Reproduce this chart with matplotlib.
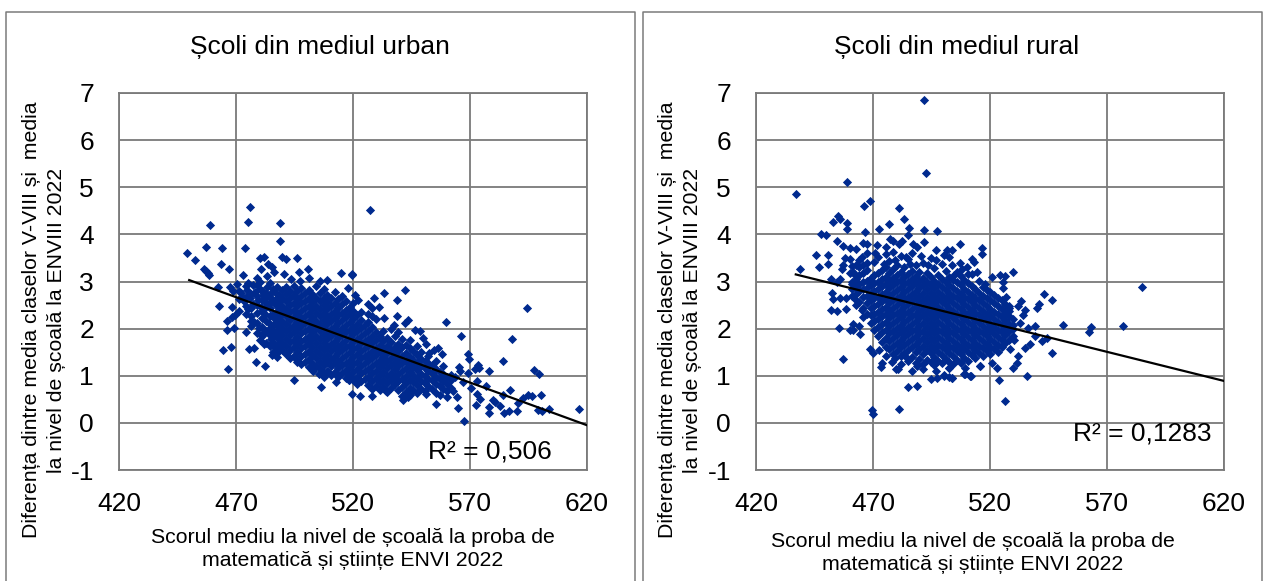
import matplotlib
matplotlib.use("Agg")
import matplotlib.pyplot as plt
from matplotlib.lines import Line2D

plt.rcParams['font.family'] = ['Liberation Sans', 'DejaVu Sans']

W, H = 1266, 581
BLUE = '#002a8f'
GRAY = '#7a7a7a'

x_ticks = [420, 470, 520, 570, 620]
y_ticks = [-1, 0, 1, 2, 3, 4, 5, 6, 7]
y_tick_labels = ['-1', '0', '1', '2', '3', '4', '5', '6', '7']

# scattered schools (score, difference)
urban_points = [
    (475.8,4.58),(459.0,4.20),(475.2,4.26),(488.9,4.25),(488.9,3.86),(457.0,3.74),(464.0,3.72),(473.8,3.71),
    (449.0,3.60),(452.5,3.46),(463.6,3.38),(466.8,3.26),(456.3,3.26),(457.2,3.22),(458.0,3.18),(458.6,3.14),
    (480.4,3.49),(482.1,3.52),(489.5,3.53),(491.5,3.47),(496.2,3.50),(483.6,3.38),(485.5,3.30),(480.8,3.26),
    (486.1,3.21),(473.0,3.13),(490.6,3.16),(496.8,3.20),(500.6,3.26),(514.7,3.18),(519.4,3.15),(483.1,3.11),
    (478.8,3.08),(501.0,3.07),(493.6,3.05),(497.3,3.02),(508.7,3.04),(505.9,3.02),(462.4,2.89),(470.5,2.94),
    (467.4,2.88),(468.8,2.79),(475.0,2.96),(477.4,2.92),(480.2,3.00),(462.9,2.47),(468.1,2.45),(469.5,2.28),
    (468.5,2.24),(466.1,2.16),(469.3,2.02),(466.3,1.98),(467.7,1.61),(464.4,1.55),(466.7,1.15),(474.4,1.93),
    (476.2,2.17),(476.2,2.05),(475.4,1.56),(477.7,1.59),(478.7,1.29),(482.5,1.20),(485.2,1.44),(480.9,1.88),
    (480.2,1.76),(481.9,1.68),(494.9,0.90),(495.9,1.29),(503.0,1.11),(505.3,1.04),(507.6,0.97),(506.3,0.76),
    (512.9,0.87),(518.1,0.91),(521.8,0.83),(512.7,1.04),(509.4,1.07),(517.3,1.05),(527.3,4.52),(519.4,3.14),
    (518.0,2.87),(520.7,2.71),(533.1,2.75),(542.4,2.82),(529.1,2.65),(538.9,2.61),(522.3,2.60),(526.5,2.52),
    (531.1,2.46),(528.3,2.44),(528.0,2.27),(533.4,2.22),(538.7,2.26),(543.5,2.19),(542.2,2.12),(559.9,2.14),
    (537.4,2.08),(546.5,1.97),(548.6,1.95),(566.1,1.84),(587.9,1.79),(594.4,2.44),(549.8,1.80),(551.2,1.67),
    (556.2,1.58),(554.5,1.54),(557.9,1.47),(552.3,1.49),(569.0,1.47),(569.7,1.35),(584.1,1.32),(597.2,1.12),
    (599.3,1.04),(578.0,1.10),(573.6,1.23),(574.0,1.16),(572.1,1.15),(565.3,1.19),(565.9,1.10),(569.3,1.06),
    (563.6,0.98),(573.0,0.89),(576.8,0.79),(570.3,0.74),(567.0,0.86),(587.1,0.70),(600.2,0.60),(596.4,0.57),
    (594.6,0.59),(592.5,0.53),(584.0,0.60),(579.7,0.49),(580.7,0.45),(574.3,0.50),(573.1,0.62),(590.6,0.42),
    (589.9,0.26),(582.8,0.35),(578.1,0.33),(578.1,0.21),(572.4,0.38),(564.6,0.55),(564.9,0.31),(567.4,0.04),
    (555.5,0.39),(560.2,0.55),(562.9,0.67),(584.5,0.21),(586.5,0.26),(599.2,0.28),(600.9,0.26),(603.8,0.30),
    (616.4,0.29),(519.7,0.61),(522.8,0.57),(528.0,0.57),(518.3,0.91),(541.5,0.49),(543.6,0.55),(551.0,0.62),
    (534.0,0.67),(472.3,2.75),(473.4,2.58),(474.6,2.82),(475.2,2.41),(476.1,2.66),(477.3,2.52),(478.2,2.78),
    (478.9,2.34),(479.6,2.61),(474.1,2.30),(480.3,2.85),(480.8,2.45),(472.9,2.64),(477.9,2.15),(479.9,2.02),
    (481.4,2.72),(482.2,2.30),(482.7,2.55),(483.3,2.88),(483.9,2.12),(484.5,2.43),(485.1,2.66),(485.6,1.95),
    (486.2,2.22),(486.8,2.78),(487.3,2.50),(487.9,2.05),(484.8,1.78),(486.5,1.62),(488.1,1.50),(483.0,1.70),
]

# the dense middle of the cloud, column by column
urban_core_x = [471.4,474.2,476.6,479.0,481.2,482.8,484.4,486.0,487.4,
                488.2,489.8,491.4,493.0,494.6,496.2,497.8,499.4,501.0,502.6,504.2,505.8,507.4,509.0,510.6,512.2,
                513.8,515.4,517.0,518.6,520.2,521.8,523.4,525.0,526.6,528.2,529.8,531.4,533.0,534.6,536.2,537.8,
                539.4,541.0,542.6,544.2,545.8,547.4,549.0,550.6,552.2,553.8,555.4,557.0,558.6,560.2,562.0]
urban_core_y = [
    [2.38,2.62,2.80],
    [2.48,2.68,2.90],
    [2.26,2.44,2.74],
    [1.90,2.12,2.50,2.70,2.92],
    [1.84,2.04,2.22,2.38,2.60,2.80],
    [1.94,2.16,2.46,2.66,2.76],
    [1.64,1.86,2.02,2.26,2.54,2.74,2.96],
    [1.50,1.72,1.88,2.08,2.32,2.58,2.84],
    [1.40,1.66,1.82,1.98,2.16,2.36,2.64,2.88],
    [1.62,1.79,1.93,2.10,2.24,2.41,2.57,2.71],
    [1.55,1.70,1.86,2.02,2.17,2.33,2.49,2.66,2.83],
    [1.47,1.63,1.79,1.95,2.09,2.26,2.42,2.58,2.73,2.88],
    [1.38,1.55,1.71,1.87,2.02,2.18,2.35,2.50,2.66,2.80],
    [1.42,1.60,1.76,1.92,2.08,2.24,2.39,2.55,2.71,2.90],
    [1.33,1.50,1.67,1.83,1.99,2.15,2.31,2.47,2.63,2.79],
    [1.25,1.41,1.58,1.74,1.90,2.06,2.22,2.38,2.54,2.70,2.86],
    [1.30,1.47,1.63,1.79,1.95,2.11,2.27,2.43,2.59,2.75],
    [1.19,1.36,1.53,1.69,1.85,2.01,2.17,2.33,2.49,2.65,2.83],
    [1.12,1.28,1.45,1.61,1.77,1.93,2.09,2.25,2.41,2.57,2.73],
    [1.20,1.37,1.53,1.69,1.85,2.01,2.17,2.33,2.49,2.65,2.90],
    [1.14,1.30,1.46,1.62,1.78,1.94,2.10,2.26,2.42,2.58,2.76],
    [1.05,1.22,1.38,1.54,1.70,1.86,2.02,2.18,2.34,2.50,2.66,2.85],
    [1.11,1.29,1.45,1.61,1.77,1.93,2.09,2.25,2.41,2.57,2.72],
    [1.02,1.20,1.36,1.52,1.68,1.84,2.00,2.16,2.32,2.48,2.64],
    [1.09,1.26,1.42,1.58,1.74,1.90,2.06,2.22,2.38,2.54,2.78],
    [0.98,1.16,1.32,1.48,1.64,1.80,1.96,2.12,2.28,2.44,2.62],
    [1.05,1.22,1.38,1.54,1.70,1.86,2.02,2.18,2.34,2.52,2.70],
    [0.96,1.12,1.28,1.44,1.60,1.76,1.92,2.08,2.24,2.40,2.58],
    [1.00,1.18,1.34,1.50,1.66,1.82,1.98,2.14,2.30,2.46],
    [0.92,1.08,1.24,1.40,1.56,1.72,1.88,2.04,2.20,2.38,2.55],
    [0.98,1.14,1.30,1.46,1.62,1.78,1.94,2.10,2.28],
    [0.88,1.05,1.21,1.37,1.53,1.69,1.85,2.01,2.19,2.36],
    [0.93,1.10,1.26,1.42,1.58,1.74,1.90,2.08],
    [0.80,0.98,1.15,1.31,1.47,1.63,1.79,1.96,2.14,2.32],
    [0.72,0.89,1.05,1.21,1.37,1.53,1.69,1.85,2.03],
    [0.78,0.95,1.11,1.27,1.43,1.59,1.75,1.93,2.20],
    [0.70,0.86,1.02,1.18,1.34,1.50,1.66,1.84],
    [0.76,0.92,1.08,1.24,1.40,1.56,1.74,1.94],
    [0.66,0.84,1.00,1.16,1.32,1.48,1.64,1.80],
    [0.74,0.90,1.06,1.22,1.38,1.54,1.72,2.00],
    [0.82,0.98,1.14,1.30,1.46,1.62,1.85],
    [0.70,0.88,1.04,1.20,1.36,1.52,1.68,1.92],
    [0.58,0.76,0.94,1.10,1.26,1.42,1.60,1.78],
    [0.66,0.84,1.00,1.16,1.32,1.48,1.66],
    [0.60,0.74,0.92,1.08,1.24,1.40,1.58,1.76],
    [0.70,0.86,1.02,1.18,1.34,1.52],
    [0.64,0.80,0.96,1.12,1.28,1.44,1.64],
    [0.72,0.88,1.04,1.20,1.36,1.50],
    [0.68,0.84,1.00,1.16,1.32],
    [0.78,0.94,1.10,1.26,1.42],
    [0.72,0.90,1.06,1.22],
    [0.64,0.82,0.98,1.14,1.32],
    [0.60,0.78,0.94,1.08],
    [0.72,0.88,1.04,1.20],
    [0.68,0.82,0.98],
    [0.75,0.90,1.02],
]
urban_trend_x = [450, 620]
urban_trend_y = [3.03, -0.05]

rural_points = [
    (492.8,5.30),(458.8,5.12),(437.0,4.85),(468.7,4.70),(466.0,4.61),(481.3,4.56),(483.1,4.33),(455.2,4.40),
    (455.9,4.32),(453.0,4.27),(459.0,4.25),(458.9,4.11),(476.8,4.23),(472.6,4.11),(466.6,4.04),(485.4,4.13),
    (491.8,4.10),(497.2,4.08),(485.1,3.98),(447.8,4.00),(449.9,3.98),(454.8,3.86),(457.0,3.76),(460.0,3.72),
    (462.7,3.69),(465.9,3.81),(467.6,3.80),(471.9,3.78),(475.6,3.73),(477.3,3.91),(478.7,3.87),(482.2,3.86),
    (481.0,3.79),(487.2,3.79),(488.7,3.74),(491.7,3.83),(507.2,3.79),(516.7,3.72),(516.7,3.59),(503.6,3.67),
    (501.5,3.67),(496.9,3.66),(445.6,3.57),(450.6,3.56),(450.6,3.37),(446.9,3.30),(438.9,3.27),(458.0,3.50),
    (460.2,3.48),(456.6,3.26),(457.3,3.35),(465.2,3.52),(461.6,3.21),(460.2,3.18),(513.3,3.41),(507.9,3.27),
    (514.3,3.21),(504.6,3.14),(510.7,3.16),(452.0,3.06),(455.9,3.06),(454.8,3.00),(462.7,3.05),(460.9,2.95),
    (452.3,2.75),(453.0,2.63),(455.9,2.64),(458.3,2.65),(452.0,2.39),(454.8,2.38),(458.5,2.41),(462.3,2.63),
    (465.2,2.39),(465.6,2.24),(455.6,2.01),(461.3,2.10),(464.0,2.05),(460.2,1.97),(461.3,1.97),(464.4,1.88),
    (457.2,1.36),(468.7,1.57),(470.0,1.48),(473.7,1.28),(473.3,1.19),(479.5,1.37),(479.7,1.15),(480.5,1.15),
    (486.8,1.11),(488.7,1.21),(491.5,1.14),(496.9,1.11),(502.5,1.17),(494.9,0.93),(497.2,0.96),(500.3,1.00),
    (502.5,0.98),(503.9,0.95),(509.3,1.03),(511.6,1.00),(509.3,1.16),(515.7,1.21),(484.8,0.76),(488.7,0.78),
    (469.4,0.28),(470.1,0.19),(481.0,0.30),(585.0,2.88),(492.0,6.85),(530.0,3.21),(524.3,3.14),(526.4,3.11),
    (520.7,3.09),(525.7,3.00),(525.7,2.87),(517.9,2.94),(526.8,2.67),(543.2,2.73),(546.4,2.60),(533.2,2.58),
    (541.1,2.53),(539.9,2.43),(534.9,2.40),(531.8,2.47),(528.3,2.48),(528.3,2.38),(533.9,2.29),(551.0,2.07),
    (539.2,2.05),(536.1,2.01),(532.8,2.12),(529.7,2.07),(563.2,2.04),(562.3,1.92),(576.8,2.05),(539.2,1.85),
    (544.2,1.80),(542.2,1.73),(537.1,1.68),(534.8,1.59),(546.4,1.48),(530.3,1.76),(528.5,1.56),(531.8,1.41),
    (531.4,1.28),(530.0,1.16),(523.1,1.16),(520.7,1.28),(535.7,1.00),(524.0,0.91),(526.4,0.46),(515.7,1.21),
    (511.7,1.00),(509.0,1.03),(503.9,0.95),(500.3,1.02),(502.5,1.16),(471.0,3.60),(474.5,3.38),(479.5,3.46),
    (484.0,3.52),(486.0,3.38),(490.5,3.55),(493.5,3.34),(497.0,3.46),(500.2,3.56),(503.8,3.34),(507.0,3.40),
    (510.0,3.30),(512.5,3.48),(472.5,1.55),(475.5,1.42),(478.0,1.30),(482.0,1.25),(484.0,1.40),
]

rural_core_x = [461.0,462.6,464.2,465.8,467.4,
                469.0,470.6,472.2,473.8,475.4,477.0,478.6,480.2,481.8,483.4,485.0,486.6,488.2,489.8,491.4,493.0,
                494.6,496.2,497.8,499.4,501.0,502.6,504.2,505.8,507.4,509.0,510.6,512.2,513.8,515.4,517.0,518.6,
                520.2,521.8,523.4,525.0,526.6,528.2,529.8]
rural_core_y = [
    [2.70,2.84,3.00,3.32],
    [2.50,2.74,2.88,3.12,3.36],
    [2.56,2.80,2.94,3.14,3.30,3.46],
    [2.44,2.68,2.84,3.00,3.18,3.34],
    [2.30,2.54,2.70,2.86,3.02,3.24,3.40,3.60],
    [2.12,2.28,2.44,2.60,2.76,2.92,3.08],
    [1.98,2.16,2.32,2.48,2.64,2.80,2.96,3.14,3.42],
    [1.85,2.04,2.20,2.36,2.52,2.68,2.84,3.00,3.18,3.52],
    [1.72,1.92,2.10,2.26,2.42,2.58,2.74,2.90,3.06,3.24],
    [1.60,1.80,1.98,2.14,2.30,2.46,2.62,2.78,2.94,3.10,3.30,3.58],
    [1.56,1.74,1.90,2.06,2.22,2.38,2.54,2.70,2.86,3.02,3.18,3.44],
    [1.46,1.64,1.80,1.96,2.12,2.28,2.44,2.60,2.76,2.92,3.08,3.26,3.62],
    [1.52,1.70,1.86,2.02,2.18,2.34,2.50,2.66,2.82,2.98,3.14,3.36],
    [1.42,1.60,1.76,1.92,2.08,2.24,2.40,2.56,2.72,2.88,3.04,3.20,3.55],
    [1.48,1.66,1.82,1.98,2.14,2.30,2.46,2.62,2.78,2.94,3.10,3.30],
    [1.32,1.54,1.72,1.88,2.04,2.20,2.36,2.52,2.68,2.84,3.00,3.16,3.48],
    [1.40,1.60,1.78,1.94,2.10,2.26,2.42,2.58,2.74,2.90,3.06,3.22,3.60],
    [1.28,1.50,1.68,1.84,2.00,2.16,2.32,2.48,2.64,2.80,2.96,3.12,3.34],
    [1.36,1.56,1.74,1.90,2.06,2.22,2.38,2.54,2.70,2.86,3.02,3.20],
    [1.24,1.46,1.64,1.80,1.96,2.12,2.28,2.44,2.60,2.76,2.92,3.08,3.40],
    [1.34,1.54,1.72,1.88,2.04,2.20,2.36,2.52,2.68,2.84,3.00,3.18],
    [1.30,1.48,1.64,1.80,1.96,2.12,2.28,2.44,2.60,2.76,2.92,3.10,3.50],
    [1.22,1.40,1.58,1.74,1.90,2.06,2.22,2.38,2.54,2.70,2.86,3.02,3.28],
    [1.32,1.50,1.66,1.82,1.98,2.14,2.30,2.46,2.62,2.78,2.94,3.14],
    [1.26,1.44,1.60,1.76,1.92,2.08,2.24,2.40,2.56,2.72,2.88,3.06,3.38],
    [1.36,1.54,1.70,1.86,2.02,2.18,2.34,2.50,2.66,2.82,2.98,3.22],
    [1.30,1.48,1.64,1.80,1.96,2.12,2.28,2.44,2.60,2.76,2.92,3.10,3.52],
    [1.24,1.42,1.58,1.74,1.90,2.06,2.22,2.38,2.54,2.70,2.86,3.04],
    [1.34,1.52,1.68,1.84,2.00,2.16,2.32,2.48,2.64,2.80,2.98,3.20],
    [1.28,1.46,1.62,1.78,1.94,2.10,2.26,2.42,2.58,2.74,2.92,3.12],
    [1.38,1.56,1.72,1.88,2.04,2.20,2.36,2.52,2.68,2.84,3.04],
    [1.32,1.50,1.66,1.82,1.98,2.14,2.30,2.46,2.62,2.78,2.96],
    [1.44,1.60,1.76,1.92,2.08,2.24,2.40,2.56,2.72,2.90,3.16],
    [1.38,1.54,1.70,1.86,2.02,2.18,2.34,2.50,2.66,2.84],
    [1.48,1.64,1.80,1.96,2.12,2.28,2.44,2.60,2.76,3.02],
    [1.42,1.58,1.74,1.90,2.06,2.22,2.38,2.54,2.70,2.88],
    [1.52,1.68,1.84,2.00,2.16,2.32,2.48,2.64,2.82],
    [1.46,1.62,1.78,1.94,2.10,2.26,2.42,2.60,2.78],
    [1.56,1.72,1.88,2.04,2.20,2.36,2.54,2.72],
    [1.50,1.66,1.82,1.98,2.14,2.30,2.48,2.66],
    [1.60,1.76,1.92,2.08,2.24,2.42,2.60],
    [1.70,1.86,2.02,2.18,2.34,2.52],
    [1.76,1.94,2.10,2.26,2.44],
    [1.84,2.00,2.20],
]
rural_trend_x = [437, 620]
rural_trend_y = [3.15, 0.89]


def fx(px):
    return px / W


def fy(py):
    return 1 - py / H


def draw_panel(left, points, core_x, core_y, trend_x, trend_y, title, title_px, r2, r2_px, r2_py, ylab_px, xlab_px, xlab_py):
    ax = fig.add_axes([fx(left), fy(470), 468 / W, 377 / H])
    xs = [p[0] for p in points]
    ys = [p[1] for p in points]
    for cx, col in zip(core_x, core_y):
        xs += [cx] * len(col)
        ys += col
    ax.scatter(xs, ys, s=22, marker='D', color=BLUE, linewidths=0, zorder=3)
    ax.plot(trend_x, trend_y, color='black', lw=1.6, zorder=4)
    ax.set_xlim(420, 620)
    ax.set_ylim(-1, 7)
    ax.set_xticks(x_ticks)
    ax.set_yticks(y_ticks)
    ax.set_yticklabels(y_tick_labels)
    ax.grid(True, color=GRAY, lw=1.3)
    ax.set_axisbelow(True)
    ax.tick_params(length=0, labelsize=19)
    ax.tick_params(axis='x', pad=16)
    ax.tick_params(axis='y', pad=18)
    for s in ax.spines.values():
        s.set_color(GRAY)
        s.set_linewidth(1.3)
    fig.text(fx(title_px), fy(47), title, ha='center', va='center', fontsize=19)
    fig.text(fx(r2_px), fy(r2_py), r2, ha='center', va='center', fontsize=19)
    fig.text(fx(ylab_px), fy(320), 'Diferența dintre media claselor V-VIII și  media\nla nivel de școală la ENVIII 2022',
             rotation=90, ha='center', va='center', fontsize=15.3, linespacing=1.4)
    fig.text(fx(xlab_px), fy(xlab_py), 'Scorul mediu la nivel de școală la proba de\nmatematică și științe ENVI 2022',
             ha='center', va='center', fontsize=15.3, linespacing=1.3)


fig = plt.figure(figsize=(W / 100, H / 100), dpi=100)

draw_panel(119, urban_points, urban_core_x, urban_core_y, urban_trend_x, urban_trend_y,
           'Școli din mediul urban', 320, 'R² = 0,506', 490, 452, 44, 353, 549)
draw_panel(756, rural_points, rural_core_x, rural_core_y, rural_trend_x, rural_trend_y,
           'Școli din mediul rural', 957, 'R² = 0,1283', 1142, 433, 680, 973, 553)

# outer frames of the two panels, open at the bottom edge
for a, b in [(6, 635), (643, 1262)]:
    fig.add_artist(Line2D([fx(a), fx(a), fx(b), fx(b)], [0, fy(12), fy(12), 0], color=GRAY, lw=1.1))

fig.savefig('out.png', dpi=100)
